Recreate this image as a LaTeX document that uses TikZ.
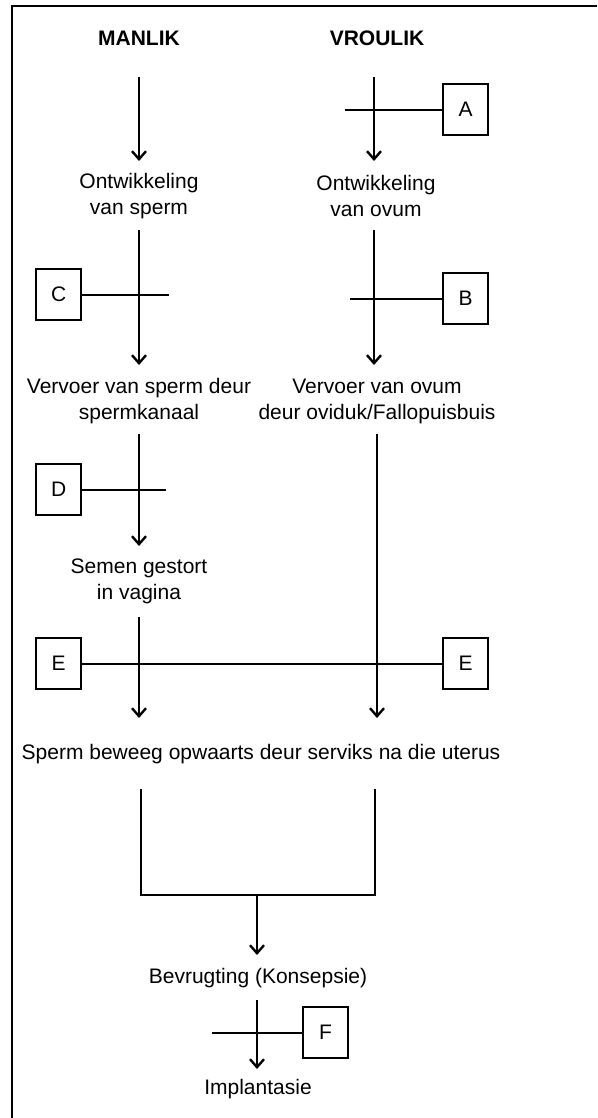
\documentclass[tikz,border=0pt]{standalone}
\usepackage{fontspec}
\setmainfont{Liberation Sans}
\usetikzlibrary{arrows.meta}
\begin{document}
\begin{tikzpicture}[x=1pt,y=-1pt,
  every node/.style={font=\fontsize{21}{26}\selectfont, inner sep=0pt},
  lbl/.style={align=center},
  head/.style={font=\fontsize{21}{26}\selectfont\bfseries},
  letterbox/.style={draw, line width=2.3pt, minimum width=45pt, minimum height=51pt, anchor=north west},
  ln/.style={line width=2.2pt},
  arr/.style={line width=2.2pt, -{Straight Barb[length=8pt,width=14pt,line width=2.4pt]}}]
\useasboundingbox (0,0) rectangle (597,1118);
\draw[line width=2pt] (11.5,1118) -- (11.5,6.5) -- (597,6.5);

% headings
\node[head] (man) at (139,38) {MANLIK};
\node[head] (vrou) at (377,38) {VROULIK};

% text nodes
\node[lbl] (ontS) at (139,196) {Ontwikkeling\\van sperm};
\node[lbl] (ontO) at (376,196) {Ontwikkeling\\van ovum};
\node[lbl] (vervS) at (139,401) {Vervoer van sperm deur\\spermkanaal};
\node[lbl] (vervO) at (377,401) {Vervoer van ovum\\deur oviduk/Fallopuisbuis};
\node[lbl] (semen) at (139,581) {Semen gestort\\in vagina};
\node (sperm) at (261,754) {Sperm beweeg opwaarts deur serviks na die uterus};
\node (bevr) at (258,978) {Bevrugting (Konsepsie)};
\node (impl) at (258,1089) {Implantasie};

% letter boxes
\node[letterbox] (A) at (442,83) {A};
\node[letterbox] (B) at (442,272) {B};
\node[letterbox] (C) at (35,268) {C};
\node[letterbox] (D) at (35,463) {D};
\node[letterbox] (EL) at (35,637) {E};
\node[letterbox] (ER) at (442,637) {E};
\node[letterbox] (F) at (302,1006) {F};

% coordinates for connector ends
\coordinate (m1s) at (139,77);  \coordinate (m1e) at (139,161);
\coordinate (f1s) at (374,77);  \coordinate (f1e) at (374,161);
\coordinate (m2s) at (139,230); \coordinate (m2e) at (139,365);
\coordinate (f2s) at (374,230); \coordinate (f2e) at (374,365);
\coordinate (m3s) at (139,434); \coordinate (m3e) at (139,546);
\coordinate (f3s) at (377,434); \coordinate (f3e) at (377,718);
\coordinate (m4s) at (139,617); \coordinate (m4e) at (139,718);
\coordinate (bl) at (141,789); \coordinate (br) at (375,789);
\coordinate (bm) at (257,895);
\coordinate (bmE) at (257,955);
\coordinate (fs) at (257,1000); \coordinate (fe) at (257,1069);
\coordinate (aEnd) at (345,0);
\coordinate (bEnd) at (350,0);
\coordinate (cEnd) at (169,0);
\coordinate (dEnd) at (166,0);
\coordinate (fEnd) at (212,0);

% arrows
\draw[arr] (m1s) -- (m1e);
\draw[arr] (f1s) -- (f1e);
\draw[arr] (m2s) -- (m2e);
\draw[arr] (f2s) -- (f2e);
\draw[arr] (m3s) -- (m3e);
\draw[arr] (f3s) -- (f3e);
\draw[arr] (m4s) -- (m4e);
\draw[ln] (bl) -- (bl |- bm) -- (br |- bm) -- (br);
\draw[arr] (bm) -- (bmE);
\draw[arr] (fs) -- (fe);

% blocking lines
\draw[ln] (A.west) -- (A.west -| aEnd);
\draw[ln] (B.west) -- (B.west -| bEnd);
\draw[ln] (C.east) -- (C.east -| cEnd);
\draw[ln] (D.east) -- (D.east -| dEnd);
\draw[ln] (EL.east) -- (ER.west);
\draw[ln] (F.west) -- (F.west -| fEnd);
\end{tikzpicture}
\end{document}
